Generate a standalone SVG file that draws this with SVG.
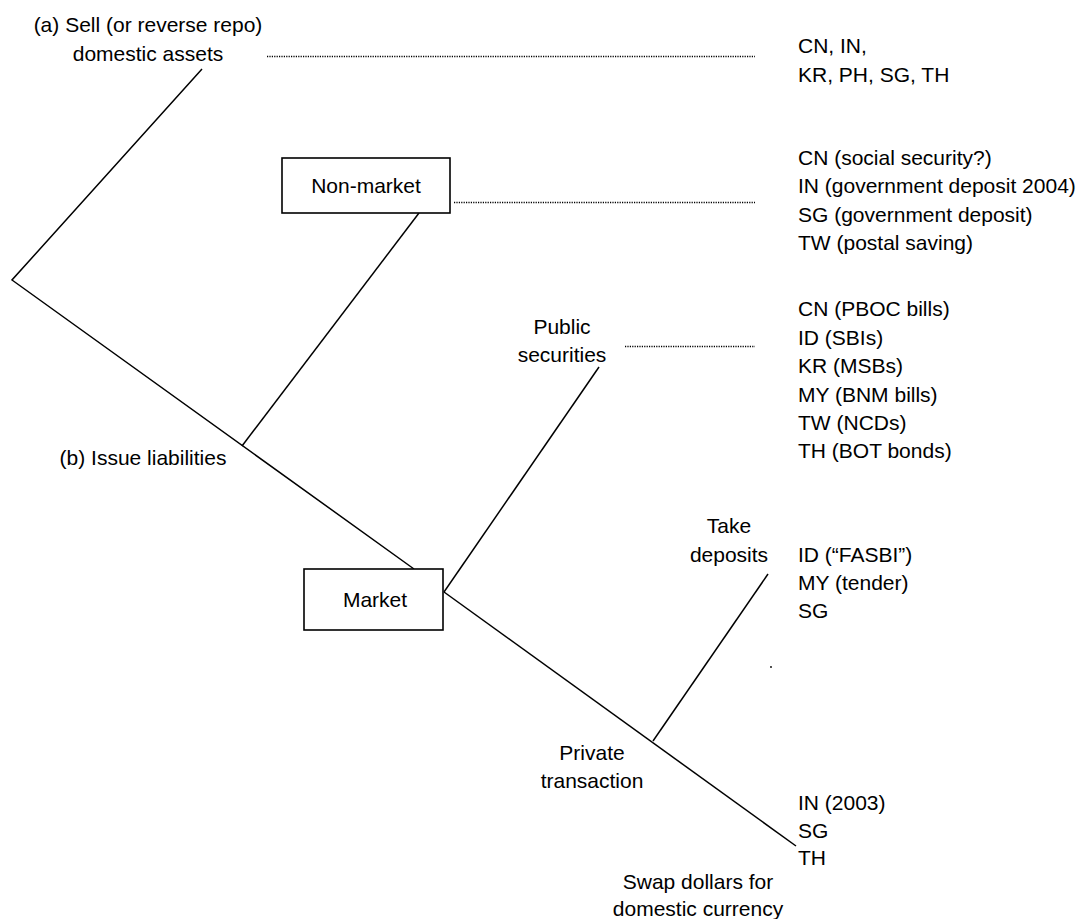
<svg xmlns="http://www.w3.org/2000/svg" width="1082" height="919" viewBox="0 0 1082 919">
<style>
  text { font-family: "Liberation Sans", Arial, sans-serif; font-size: 21px; fill: #000; }
  .c { text-anchor: middle; }
  .box { fill: #fff; stroke: #000; stroke-width: 1.6; }
  .ln { fill: none; stroke: #000; stroke-width: 1.5; }
  .dot { fill: none; stroke: #000; stroke-width: 1.3; stroke-dasharray: 1.2 1.2; }
</style>
<rect width="1082" height="919" fill="#fff"/>
<g id="connectors">
  <polyline class="ln" points="202,69 12,280 414,569"/>
  <line class="ln" x1="419" y1="213" x2="242" y2="446"/>
  <line class="ln" x1="444" y1="592" x2="599" y2="367"/>
  <line class="ln" x1="444" y1="592" x2="796" y2="846"/>
  <line class="ln" x1="653" y1="741" x2="768" y2="574"/>
  <line class="dot" x1="267" y1="56.5" x2="755" y2="56.5"/>
  <line class="dot" x1="454" y1="202.5" x2="755" y2="202.5"/>
  <line class="dot" x1="625" y1="346.5" x2="755" y2="346.5"/>
  <circle cx="771" cy="667" r="0.9" fill="#000"/>
</g>
<g id="sell-assets">
  <text class="c" x="148" y="32">(a) Sell (or reverse repo)</text>
  <text class="c" x="148" y="61">domestic assets</text>
</g>
<g id="issue-liabilities">
  <text class="c" x="143" y="465">(b) Issue liabilities</text>
</g>
<g id="non-market">
  <rect class="box" x="282" y="158" width="168" height="55"/>
  <text class="c" x="366" y="193">Non-market</text>
</g>
<g id="market">
  <rect class="box" x="304" y="569" width="139" height="61"/>
  <text class="c" x="375" y="607">Market</text>
</g>
<g id="public-securities">
  <text class="c" x="562" y="334">Public</text>
  <text class="c" x="562" y="362">securities</text>
</g>
<g id="take-deposits">
  <text class="c" x="729" y="533">Take</text>
  <text class="c" x="729" y="562">deposits</text>
</g>
<g id="private-transaction">
  <text class="c" x="592" y="760">Private</text>
  <text class="c" x="592" y="788">transaction</text>
</g>
<g id="swap">
  <text class="c" x="698" y="889">Swap dollars for</text>
  <text class="c" x="698" y="916">domestic currency</text>
</g>
<g id="list-sell">
  <text x="798" y="53">CN, IN,</text>
  <text x="798" y="82">KR, PH, SG, TH</text>
</g>
<g id="list-non-market">
  <text x="798" y="165">CN (social security?)</text>
  <text x="798" y="193">IN (government deposit 2004)</text>
  <text x="798" y="222">SG (government deposit)</text>
  <text x="798" y="250">TW (postal saving)</text>
</g>
<g id="list-public-securities">
  <text x="798" y="316">CN (PBOC bills)</text>
  <text x="798" y="345">ID (SBIs)</text>
  <text x="798" y="373">KR (MSBs)</text>
  <text x="798" y="402">MY (BNM bills)</text>
  <text x="798" y="430">TW (NCDs)</text>
  <text x="798" y="458">TH (BOT bonds)</text>
</g>
<g id="list-take-deposits">
  <text x="798" y="562">ID (“FASBI”)</text>
  <text x="798" y="590">MY (tender)</text>
  <text x="798" y="618">SG</text>
</g>
<g id="list-swap">
  <text x="798" y="810">IN (2003)</text>
  <text x="798" y="838">SG</text>
  <text x="798" y="865">TH</text>
</g>
</svg>
